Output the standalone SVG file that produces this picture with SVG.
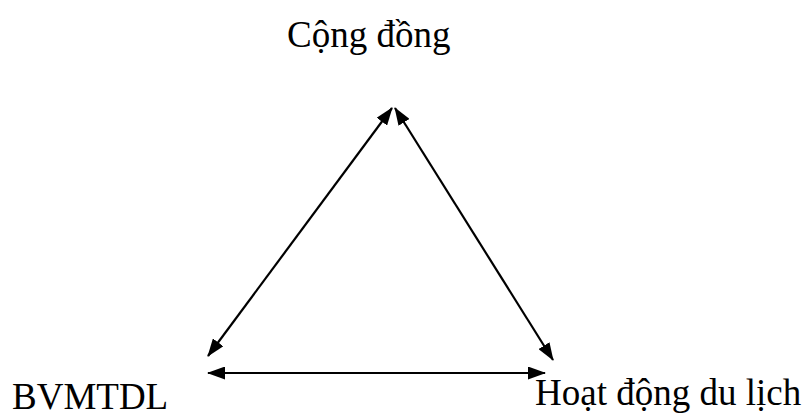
<svg xmlns="http://www.w3.org/2000/svg" width="805" height="416" viewBox="0 0 805 416">
<style>
.lbl{font-family:"Liberation Serif","Times New Roman",serif;font-size:37px;fill:#000}
.ln{stroke:#000;stroke-width:2.2;fill:none;marker-start:url(#ah);marker-end:url(#ah)}
</style>
<defs>
<marker id="ah" viewBox="0 0 18 13" refX="17" refY="6.5" markerWidth="18" markerHeight="13" markerUnits="userSpaceOnUse" orient="auto-start-reverse">
<path d="M0,0 L18,6.5 L0,13 Z" fill="#000"/>
</marker>
</defs>
<rect width="805" height="416" fill="#fff"/>
<g id="connectors">
<line class="ln" x1="208" y1="356" x2="392" y2="108"/>
<line class="ln" x1="395" y1="108" x2="553" y2="360"/>
<line class="ln" x1="208" y1="373" x2="545" y2="373"/>
</g>
<g id="cong-dong"><text class="lbl" x="287" y="47">Cộng đồng</text></g>
<g id="bvmtdl"><text class="lbl" x="12" y="409">BVMTDL</text></g>
<g id="hoat-dong"><text class="lbl" x="535" y="405">Hoạt động du lịch</text></g>
</svg>
